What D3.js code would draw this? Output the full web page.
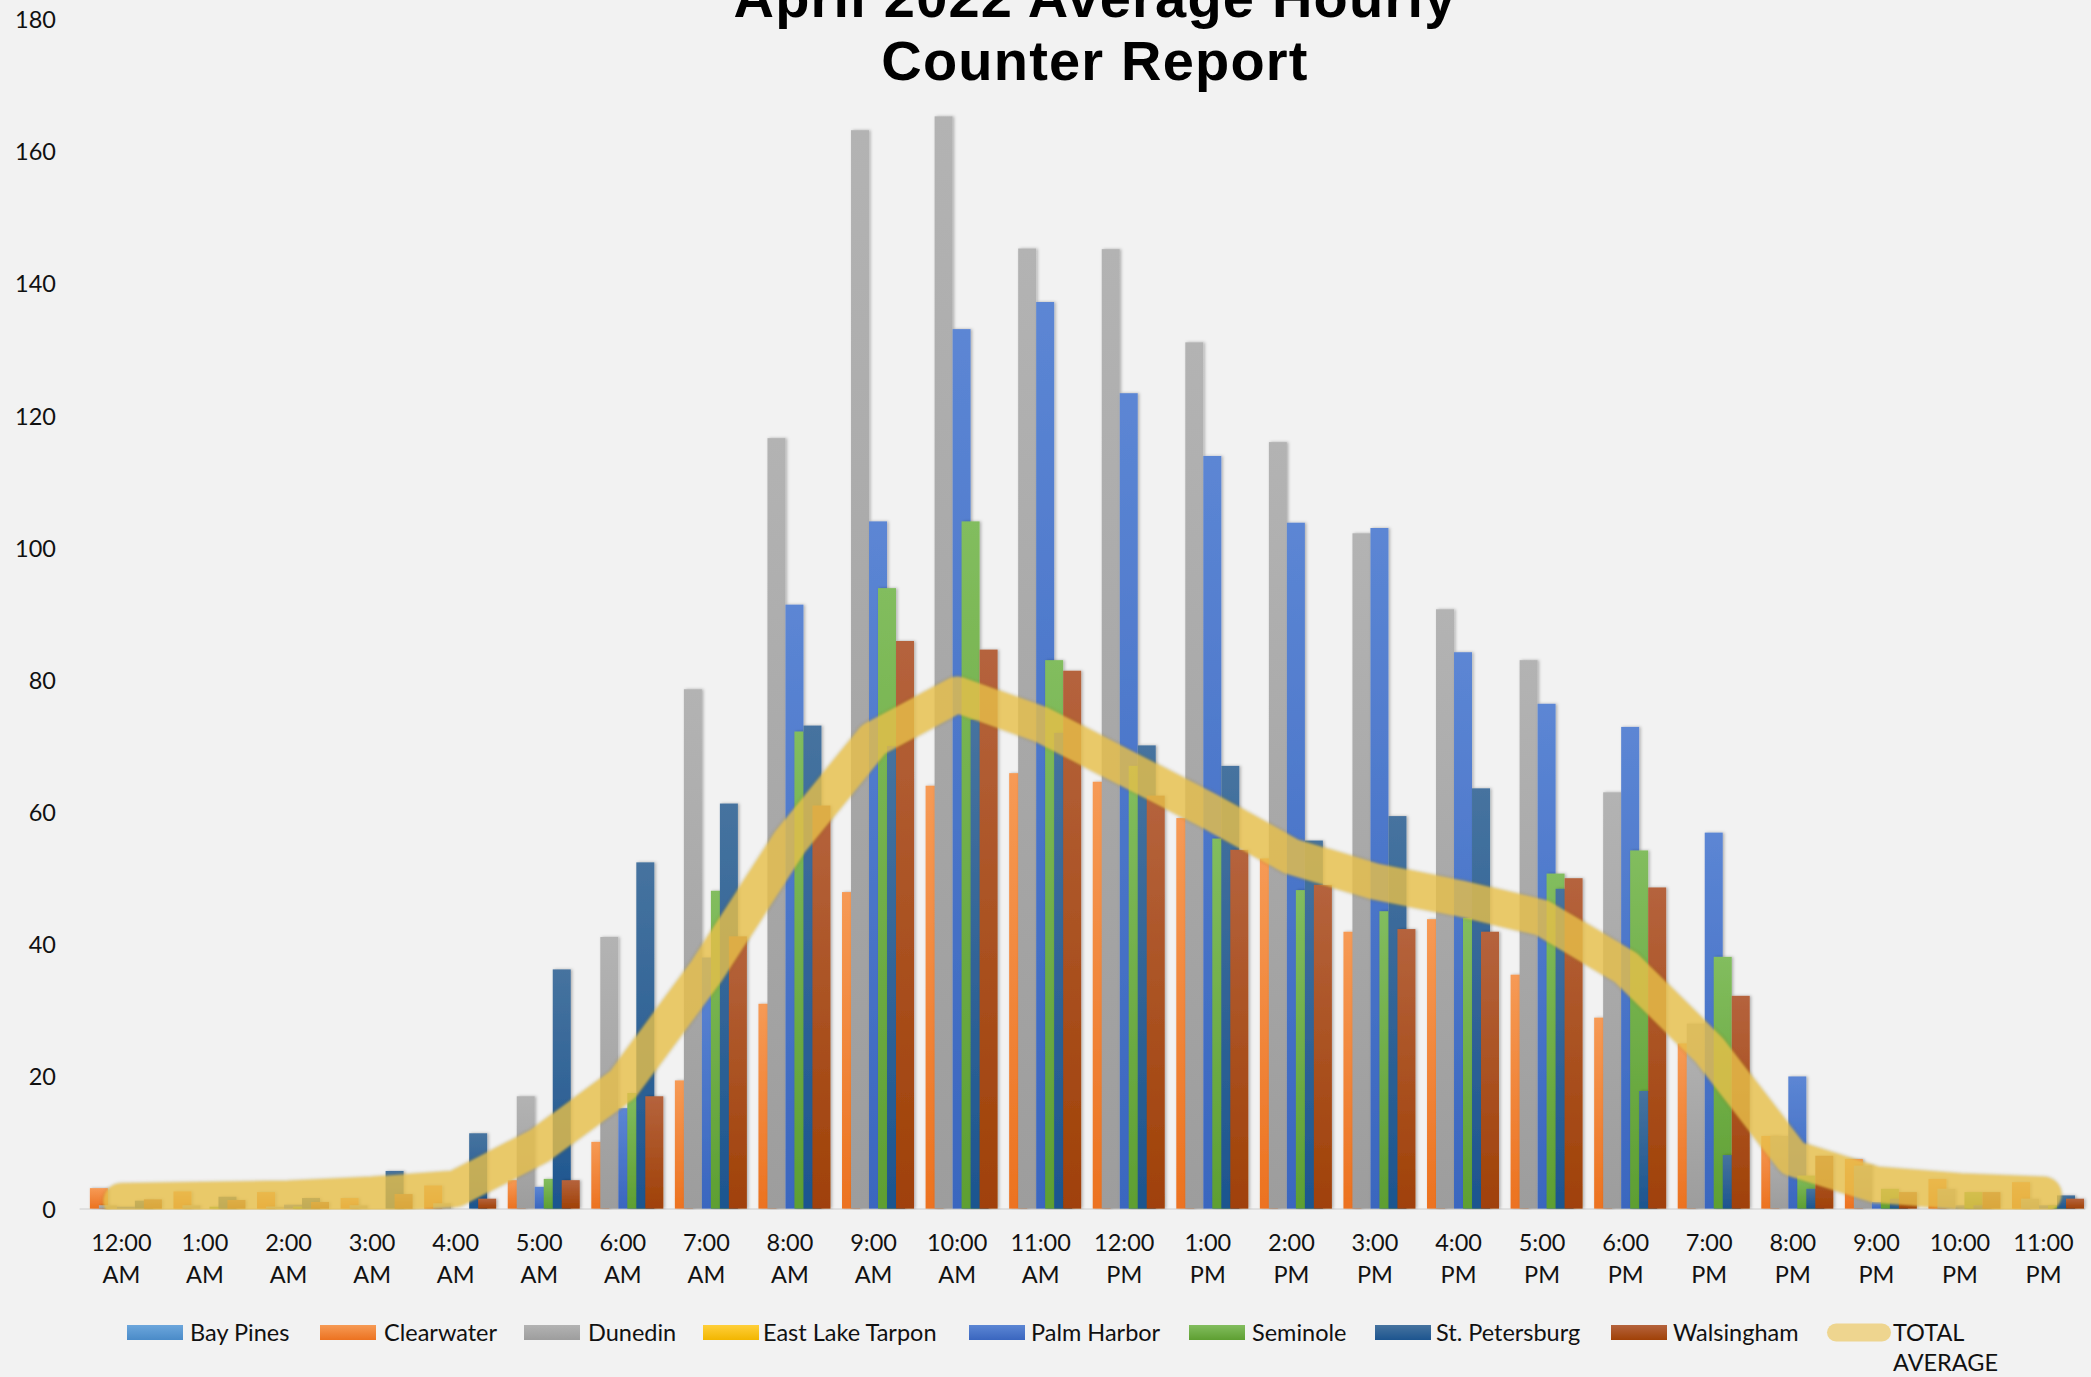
<!DOCTYPE html>
<html>
<head>
<meta charset="utf-8">
<script src="https://cdn.jsdelivr.net/npm/d3@7"></script>
<style>
  html, body { margin: 0; padding: 0; background: #F2F2F2; }
  svg { display: block; }
</style>
</head>
<body>
<svg id="chart" width="2091" height="1377"></svg>
<script>
// ---------------- DATA ----------------
const categories = ["12:00 AM","1:00 AM","2:00 AM","3:00 AM","4:00 AM","5:00 AM","6:00 AM","7:00 AM",
  "8:00 AM","9:00 AM","10:00 AM","11:00 AM","12:00 PM","1:00 PM","2:00 PM","3:00 PM","4:00 PM",
  "5:00 PM","6:00 PM","7:00 PM","8:00 PM","9:00 PM","10:00 PM","11:00 PM"];

const seriesNames = ["Bay Pines","Clearwater","Dunedin","East Lake Tarpon","Palm Harbor","Seminole","St. Petersburg","Walsingham"];
const lineName = "TOTAL AVERAGE";

const bayPines       = [0,0,0,0,0,0,0,0,0,0,0,0,0,0,0,0,0,0,0,0,0,0,0,0];
const clearwater     = [3.1,2.6,2.5,1.6,3.5,4.3,10.1,19.4,31.0,47.9,64.0,65.9,64.6,59.1,53.0,41.9,43.8,35.4,28.9,25.0,11.0,7.5,4.5,4.0];
const dunedin        = [0.5,0.5,0.3,0.5,0.8,17.0,41.1,78.6,116.6,163.2,165.3,145.3,145.2,131.1,116.0,102.2,90.7,83.0,63.0,28.0,11.0,6.5,3.0,1.5];
const eastLakeTarpon = [0,0,0,0,0,0,0,0,0,0,0,0,0,0,0,0,0,0,0,0,0,0,0,0];
const palmHarbor     = [0.3,0,0.6,0,0,3.3,15.2,38.0,91.4,104.0,133.1,137.2,123.4,113.9,103.8,103.0,84.2,76.4,72.9,56.9,20.0,1.0,0.5,0.5];
const seminole       = [0,0.3,0.3,0,0,4.5,17.5,48.1,72.2,93.9,104.0,83.0,67.0,56.0,48.2,45.0,44.0,50.7,54.2,38.1,5.0,3.0,2.5,0.5];
const stPetersburg   = [1.2,1.8,1.6,5.7,11.4,36.2,52.4,61.3,73.1,70.0,74.0,72.0,70.1,67.0,55.7,59.4,63.6,48.4,17.8,8.1,3.0,1.5,0.5,2.0];
const walsingham     = [1.4,1.3,1.0,2.2,1.5,4.3,17.0,41.2,61.0,85.9,84.6,81.4,62.5,54.3,49.0,42.3,41.9,50.0,48.6,32.2,8.0,2.5,2.5,1.5];
const totalAverage   = [1.1,1.3,1.5,2.1,3.0,9.5,18.8,35.9,55.5,71.0,77.8,73.3,66.8,60.3,53.3,49.5,47.0,44.0,36.5,24.0,7.6,3.6,2.6,2.1];

const yTicks = [0,20,40,60,80,100,120,140,160,180];
const titleLines = ["April 2022 Average Hourly","Counter Report"];

// ---------------- STYLE / LAYOUT ----------------
const seriesValues = [bayPines, clearwater, dunedin, eastLakeTarpon, palmHarbor, seminole, stPetersburg, walsingham];
const gradStops = [
  ["#6CA6DC","#4A8BC8"],
  ["#F69A55","#EC7220"],
  ["#B3B3B3","#9D9D9D"],
  ["#FFCF3A","#F2B600"],
  ["#5C86D4","#3A66BF"],
  ["#82BD5E","#5E9F32"],
  ["#46739F","#1D558F"],
  ["#B5633D","#A04107"]
];
const lineColor = "#EBC24C";
const FONT = "Lato, 'Open Sans', sans-serif";

const svg = d3.select("#chart");
const W = 2091, H = 1377;
svg.append("rect").attr("width", W).attr("height", H).attr("fill", "#F2F2F2");

const defs = svg.append("defs");
gradStops.forEach((g, i) => {
  const lg = defs.append("linearGradient").attr("id", "g" + i)
    .attr("x1", 0).attr("y1", 0).attr("x2", 0).attr("y2", 1);
  lg.append("stop").attr("offset", "0%").attr("stop-color", g[0]);
  lg.append("stop").attr("offset", "100%").attr("stop-color", g[1]);
});
const sh = defs.append("filter").attr("id", "barShadow")
  .attr("x", "-50%").attr("y", "-5%").attr("width", "200%").attr("height", "110%");
sh.append("feDropShadow").attr("dx", 1.5).attr("dy", 0).attr("stdDeviation", 1.5)
  .attr("flood-color", "#000").attr("flood-opacity", 0.28);
const lsh = defs.append("filter").attr("id", "lineShadow")
  .attr("x", "-10%").attr("y", "-20%").attr("width", "120%").attr("height", "140%");
lsh.append("feGaussianBlur").attr("in", "SourceGraphic").attr("stdDeviation", 0.8);

const plotLeft = 79.6, plotRight = 2085.3, plotTop = 19.2, plotBottom = 1208.6;
defs.append("clipPath").attr("id", "plotClip").append("rect")
  .attr("x", 0).attr("y", 0).attr("width", W).attr("height", plotBottom + 1);

const x = d3.scaleBand().domain(categories).range([plotLeft, plotRight]).padding(0);
const y = d3.scaleLinear().domain([0, 180]).range([plotBottom, plotTop]);

const bw = x.bandwidth();
const barW = bw * 0.2154;
const span = barW * 4.5;
const sub = d3.scaleLinear().domain([0, seriesNames.length - 1])
  .range([(bw - span) / 2, (bw - span) / 2 + 3.5 * barW]);

// baseline
svg.append("line").attr("x1", plotLeft).attr("x2", plotRight)
  .attr("y1", plotBottom + 0.5).attr("y2", plotBottom + 0.5)
  .attr("stroke", "#D9D9D9").attr("stroke-width", 1.5);

// bars
const barsG = svg.append("g").attr("clip-path", "url(#plotClip)");
seriesValues.forEach((vals, si) => {
  barsG.append("g").attr("filter", "url(#barShadow)")
    .selectAll("rect").data(vals.map((v, i) => ({ v, c: categories[i] })))
    .join("rect")
    .attr("x", d => x(d.c) + sub(si))
    .attr("y", d => y(d.v))
    .attr("width", barW)
    .attr("height", d => Math.max(0, y(0) - y(d.v)))
    .attr("fill", "url(#g" + si + ")");
});

// total average line
const lineGen = d3.line()
  .x((d, i) => x(categories[i]) + bw / 2)
  .y(d => y(d))
  .curve(d3.curveCatmullRom.alpha(0.5));
const lineG = svg.append("g").attr("clip-path", "url(#plotClip)");
lineG.append("path").datum(totalAverage)
  .attr("d", d3.line().x((d, i) => x(categories[i]) + bw / 2).y(d => y(d)).curve(d3.curveLinear))
  .attr("fill", "none")
  .attr("stroke", "#8a6d1a").attr("stroke-opacity", 0.12)
  .attr("stroke-width", 40).attr("stroke-linecap", "round").attr("stroke-linejoin", "round")
  .attr("filter", "url(#lineShadow)");
lineG.append("path").datum(totalAverage)
  .attr("d", d3.line().x((d, i) => x(categories[i]) + bw / 2).y(d => y(d)).curve(d3.curveLinear))
  .attr("fill", "none")
  .attr("stroke", lineColor).attr("stroke-opacity", 0.78)
  .attr("stroke-width", 36).attr("stroke-linecap", "round").attr("stroke-linejoin", "round")
  .attr("filter", "url(#lineShadow)");

// y axis
const yAxis = svg.append("g").attr("transform", "translate(56,0)")
  .call(d3.axisLeft(y).tickValues(yTicks).tickSize(0).tickPadding(0));
yAxis.select(".domain").remove();
yAxis.selectAll("text").attr("font-family", FONT).attr("font-size", 23.5).attr("fill", "#111")
  .attr("dy", "0.36em");

// x axis
const xAxis = svg.append("g").attr("transform", `translate(0,${plotBottom})`)
  .call(d3.axisBottom(x).tickSize(0).tickPadding(0));
xAxis.select(".domain").remove();
xAxis.selectAll("text").each(function(d) {
  const parts = d.split(" ");
  const t = d3.select(this).text(null)
    .attr("font-family", FONT).attr("font-size", 23.5).attr("fill", "#111")
    .attr("y", 0).attr("dy", null);
  t.append("tspan").attr("x", 0).attr("y", 42).text(parts[0]);
  t.append("tspan").attr("x", 0).attr("y", 74).text(parts[1]);
});

// title
const title = svg.append("text").attr("x", 1095).attr("text-anchor", "middle")
  .attr("font-family", "'Liberation Sans', Arial, sans-serif").attr("font-weight", "bold")
  .attr("font-size", 56).attr("letter-spacing", 1.2).attr("fill", "#000");
title.append("tspan").attr("x", 1095).attr("y", 17).text(titleLines[0]);
title.append("tspan").attr("x", 1095).attr("y", 79.5).text(titleLines[1]);

// legend (layout constants)
const legendSwatchX = [127, 320, 524, 703, 969, 1189, 1375, 1611, 1827];
const legendTextX   = [190, 384, 588, 763, 1031, 1252, 1436, 1673, 1893];
const legend = svg.append("g");
seriesNames.forEach((name, i) => {
  legend.append("rect").attr("x", legendSwatchX[i]).attr("y", 1325)
    .attr("width", 56).attr("height", 15).attr("fill", "url(#g" + i + ")");
  legend.append("text").attr("x", legendTextX[i]).attr("y", 1332.5).attr("dy", "0.36em")
    .attr("font-family", FONT).attr("font-size", 23.5).attr("fill", "#111").text(name);
});
const li = seriesNames.length;
legend.append("line").attr("x1", legendSwatchX[li] + 9).attr("x2", legendSwatchX[li] + 55)
  .attr("y1", 1332.5).attr("y2", 1332.5)
  .attr("stroke", lineColor).attr("stroke-opacity", 0.6)
  .attr("stroke-width", 18).attr("stroke-linecap", "round");
const lt = legend.append("text").attr("font-family", FONT).attr("font-size", 23.5).attr("fill", "#111");
const lparts = lineName.split(" ");
lt.append("tspan").attr("x", legendTextX[li]).attr("y", 1332.5).attr("dy", "0.36em").text(lparts[0]);
lt.append("tspan").attr("x", legendTextX[li]).attr("y", 1363).attr("dy", "0.36em").text(lparts[1]);
</script>
</body>
</html>
